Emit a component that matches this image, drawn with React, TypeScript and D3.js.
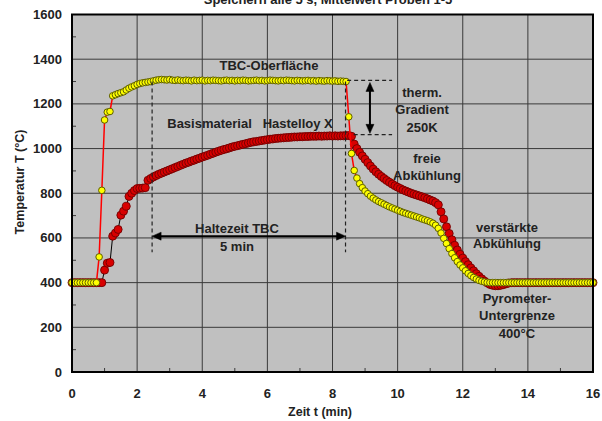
import React from "react";
import { scaleLinear, line } from "d3";

// Messwerte alle 5 s (Zeitindex i -> t = i*5/60 min)
const sampleSec = 5;

// TBC-Oberfläche (gelbe Punkte)
const tbcSurface = [
  400, 400, 400, 400, 400, 400, 400, 400, 400, 400,
  515, 813, 1128, 1163, 1166, 1236, 1241, 1246, 1250, 1254,
  1262, 1270, 1276, 1281, 1287, 1291, 1294, 1296, 1298, 1300,
  1303, 1306, 1308, 1309, 1308, 1307, 1309, 1306, 1305, 1307,
  1305, 1304, 1306, 1305, 1303, 1306, 1304, 1305, 1306, 1303,
  1305, 1304, 1306, 1305, 1304, 1303, 1305, 1306, 1304, 1305,
  1303, 1305, 1304, 1306, 1305, 1303, 1304, 1305, 1306, 1304,
  1305, 1303, 1304, 1306, 1305, 1304, 1303, 1305, 1304, 1306,
  1305, 1304, 1303, 1305, 1304, 1303, 1304, 1305, 1303, 1304,
  1302, 1304, 1303, 1302, 1304, 1303, 1302, 1303, 1301, 1302,
  1301, 1300, 1142, 978, 902, 868, 843, 825, 810, 798,
  787, 778, 770, 763, 757, 751, 745, 739, 734, 729,
  724, 719, 714, 710, 706, 702, 698, 694, 690, 685,
  681, 677, 672, 666, 657, 643, 622, 598, 575, 552,
  530, 511, 494, 479, 466, 453, 441, 431, 423, 416,
  410, 406, 403, 401, 400, 400, 400, 400, 400, 400,
  400, 400, 400, 400, 400, 400, 400, 400, 400, 400,
  400, 400, 400, 400, 400, 400, 400, 400, 400, 400,
  400, 400, 400, 400, 400, 400, 400, 400, 400, 400,
  400, 400, 400,
];

// Basismaterial Hastelloy X (rote Punkte)
const baseMaterial = [
  400, 400, 400, 400, 400, 400, 400, 400, 400, 400,
  400, 400, 456, 487, 490, 608, 622, 638, 702, 720,
  742, 786, 800, 812, 821, 822, 823, 825, 858, 866,
  873, 879, 885, 890, 895, 900, 905, 910, 915, 920,
  925, 930, 935, 939, 944, 948, 953, 957, 962, 966,
  970, 975, 979, 984, 988, 992, 996, 999, 1003, 1007,
  1010, 1013, 1016, 1019, 1022, 1025, 1028, 1030, 1032, 1034,
  1036, 1038, 1040, 1042, 1043, 1045, 1046, 1047, 1048, 1049,
  1050, 1051, 1052, 1052, 1053, 1053, 1054, 1054, 1055, 1055,
  1055, 1056, 1055, 1056, 1056, 1057, 1056, 1057, 1056, 1057,
  1057, 1058, 1058, 1055, 1020, 1000, 983, 967, 952, 937,
  922, 908, 896, 885, 875, 866, 857, 849, 841, 834,
  827, 821, 815, 810, 805, 800, 796, 792, 788, 784,
  780, 775, 770, 765, 758, 748, 717, 685, 650, 620,
  592, 567, 546, 527, 510, 494, 480, 466, 453, 440,
  428, 417, 407, 399, 392, 388, 386, 386, 388, 391,
  395, 398, 400, 400, 400, 400, 400, 400, 400, 400,
  400, 400, 400, 400, 400, 400, 400, 400, 400, 400,
  400, 400, 400, 400, 400, 400, 400, 400, 400, 400,
  400, 400, 400,
];

const xTicks = [0, 2, 4, 6, 8, 10, 12, 14, 16];
const xMinor = [1, 3, 5, 7, 9, 11, 13, 15];
const yTicks = [0, 200, 400, 600, 800, 1000, 1200, 1400, 1600];
const yMinor = [100, 300, 500, 700, 900, 1100, 1300, 1500];

const W = 602;
const H = 421;
const font = "'Liberation Sans', Arial, sans-serif";

type Pt = [number, number];

const toPoints = (vals: number[]): Pt[] =>
  vals.map((v, i) => [(i * sampleSec) / 60, v] as Pt);

export default function App() {
  const x = scaleLinear().domain([0, 16]).range([72, 593]);
  const y = scaleLinear().domain([0, 1600]).range([372, 14.5]);

  const tbc = toPoints(tbcSurface);
  const base = toPoints(baseMaterial);
  const path = line<Pt>()
    .x((d) => x(d[0]))
    .y((d) => y(d[1]));

  const txt = (s: string, cx: number, cy: number, key: string) => (
    <text
      key={key}
      x={cx}
      y={cy}
      textAnchor="middle"
      dominantBaseline="central"
      fontFamily={font}
      fontWeight="bold"
      fontSize={13}
      fill="#222"
      style={{ whiteSpace: "pre" }}
    >
      {s}
    </text>
  );

  // Pfeil Haltezeit
  const hy = y(608);
  const hx1 = x(2.46);
  const hx2 = x(8.4);
  // Pfeil Gradient
  const vx = x(9.15);
  const vy1 = y(1296);
  const vy2 = y(1068);

  return (
    <svg
      width={W}
      height={H}
      style={{ position: "absolute", left: 0, top: 0, background: "#fff" }}
    >
      <text
        x={328}
        y={4}
        textAnchor="middle"
        fontFamily={font}
        fontWeight="bold"
        fontSize={13}
        fill="#222"
      >
        Speichern alle 5 s, Mittelwert Proben 1-5
      </text>

      <rect
        x={x(0)}
        y={y(1600)}
        width={x(16) - x(0)}
        height={y(0) - y(1600)}
        fill="#c0c0c0"
      />

      {xTicks.map((t) => (
        <line
          key={"gx" + t}
          x1={x(t)}
          x2={x(t)}
          y1={y(0)}
          y2={y(1600)}
          stroke="#3a3a3a"
          strokeWidth={1}
        />
      ))}
      {yTicks.map((t) => (
        <line
          key={"gy" + t}
          x1={x(0)}
          x2={x(16)}
          y1={y(t)}
          y2={y(t)}
          stroke="#3a3a3a"
          strokeWidth={1}
        />
      ))}
      {xMinor.map((t) => (
        <line
          key={"mx" + t}
          x1={x(t)}
          x2={x(t)}
          y1={y(0)}
          y2={y(0) - 4}
          stroke="#3a3a3a"
        />
      ))}
      {yMinor.map((t) => (
        <line
          key={"my" + t}
          x1={x(0)}
          x2={x(0) + 4}
          y1={y(t)}
          y2={y(t)}
          stroke="#3a3a3a"
        />
      ))}

      {/* Basismaterial */}
      <path d={path(base) || ""} fill="none" stroke="#000" strokeWidth={1} />
      {base.map((d, i) => (
        <circle
          key={"b" + i}
          cx={x(d[0])}
          cy={y(d[1])}
          r={4}
          fill="#d80000"
          stroke="#700000"
          strokeWidth={0.9}
        />
      ))}

      {/* TBC-Oberfläche */}
      <path d={path(tbc) || ""} fill="none" stroke="#ff0000" strokeWidth={1.5} />
      {tbc.map((d, i) => (
        <circle
          key={"t" + i}
          cx={x(d[0])}
          cy={y(d[1])}
          r={3.3}
          fill="#ffff00"
          stroke="#5c5c00"
          strokeWidth={1}
        />
      ))}

      {/* Hilfslinien */}
      <g stroke="#222" strokeWidth={1.2} strokeDasharray="4,3" fill="none">
        <line x1={x(2.46)} x2={x(2.46)} y1={y(1300)} y2={y(536)} />
        <line x1={x(8.4)} x2={x(8.4)} y1={y(1300)} y2={y(536)} />
        <line x1={x(8.45)} x2={x(9.83)} y1={y(1305)} y2={y(1305)} />
        <line x1={x(8.65)} x2={x(9.83)} y1={y(1062)} y2={y(1062)} />
      </g>

      <g stroke="#000" strokeWidth={2} fill="#000">
        <line x1={hx1 + 4} x2={hx2 - 4} y1={hy} y2={hy} />
        <path d={`M${hx1},${hy}L${hx1 + 9},${hy - 4}L${hx1 + 9},${hy + 4}Z`} strokeWidth={0.5} />
        <path d={`M${hx2},${hy}L${hx2 - 9},${hy - 4}L${hx2 - 9},${hy + 4}Z`} strokeWidth={0.5} />
        <line x1={vx} x2={vx} y1={vy1 + 4} y2={vy2 - 4} />
        <path d={`M${vx},${vy1}L${vx - 4},${vy1 + 9}L${vx + 4},${vy1 + 9}Z`} strokeWidth={0.5} />
        <path d={`M${vx},${vy2}L${vx - 4},${vy2 - 9}L${vx + 4},${vy2 - 9}Z`} strokeWidth={0.5} />
      </g>

      {/* Rahmen */}
      <rect
        x={x(0)}
        y={y(1600)}
        width={x(16) - x(0)}
        height={y(0) - y(1600)}
        fill="none"
        stroke="#000"
        strokeWidth={2}
      />

      {/* Achsenbeschriftung */}
      {yTicks.map((t) => (
        <text
          key={"yl" + t}
          x={62}
          y={y(t)}
          textAnchor="end"
          dominantBaseline="central"
          fontFamily={font}
          fontWeight="bold"
          fontSize={13}
          fill="#222"
        >
          {t}
        </text>
      ))}
      {xTicks.map((t) => (
        <text
          key={"xl" + t}
          x={x(t)}
          y={393}
          textAnchor="middle"
          dominantBaseline="central"
          fontFamily={font}
          fontWeight="bold"
          fontSize={13}
          fill="#222"
        >
          {t}
        </text>
      ))}
      <text
        x={320}
        y={412}
        textAnchor="middle"
        dominantBaseline="central"
        fontFamily={font}
        fontWeight="bold"
        fontSize={12.5}
        fill="#222"
      >
        Zeit t (min)
      </text>
      <text
        transform={`translate(20,182) rotate(-90)`}
        textAnchor="middle"
        dominantBaseline="central"
        fontFamily={font}
        fontWeight="bold"
        fontSize={12.5}
        fill="#222"
      >
        Temperatur T (°C)
      </text>

      {/* Anmerkungen */}
      {txt("TBC-Oberfläche", 269, 65, "a1")}
      {txt("Basismaterial   Hastelloy X", 250, 123, "a2")}
      {txt("therm.", 422, 92, "a3")}
      {txt("Gradient", 422, 109, "a4")}
      {txt("250K", 422, 127, "a5")}
      {txt("freie", 427, 158, "a6")}
      {txt("Abkühlung", 427, 175, "a7")}
      {txt("Haltezeit TBC", 237, 228, "a8")}
      {txt("5 min", 237, 246, "a9")}
      {txt("verstärkte", 507, 227, "a10")}
      {txt("Abkühlung", 507, 243, "a11")}
      {txt("Pyrometer-", 517, 298, "a12")}
      {txt("Untergrenze", 517, 315, "a13")}
      {txt("400°C", 517, 333, "a14")}
    </svg>
  );
}
